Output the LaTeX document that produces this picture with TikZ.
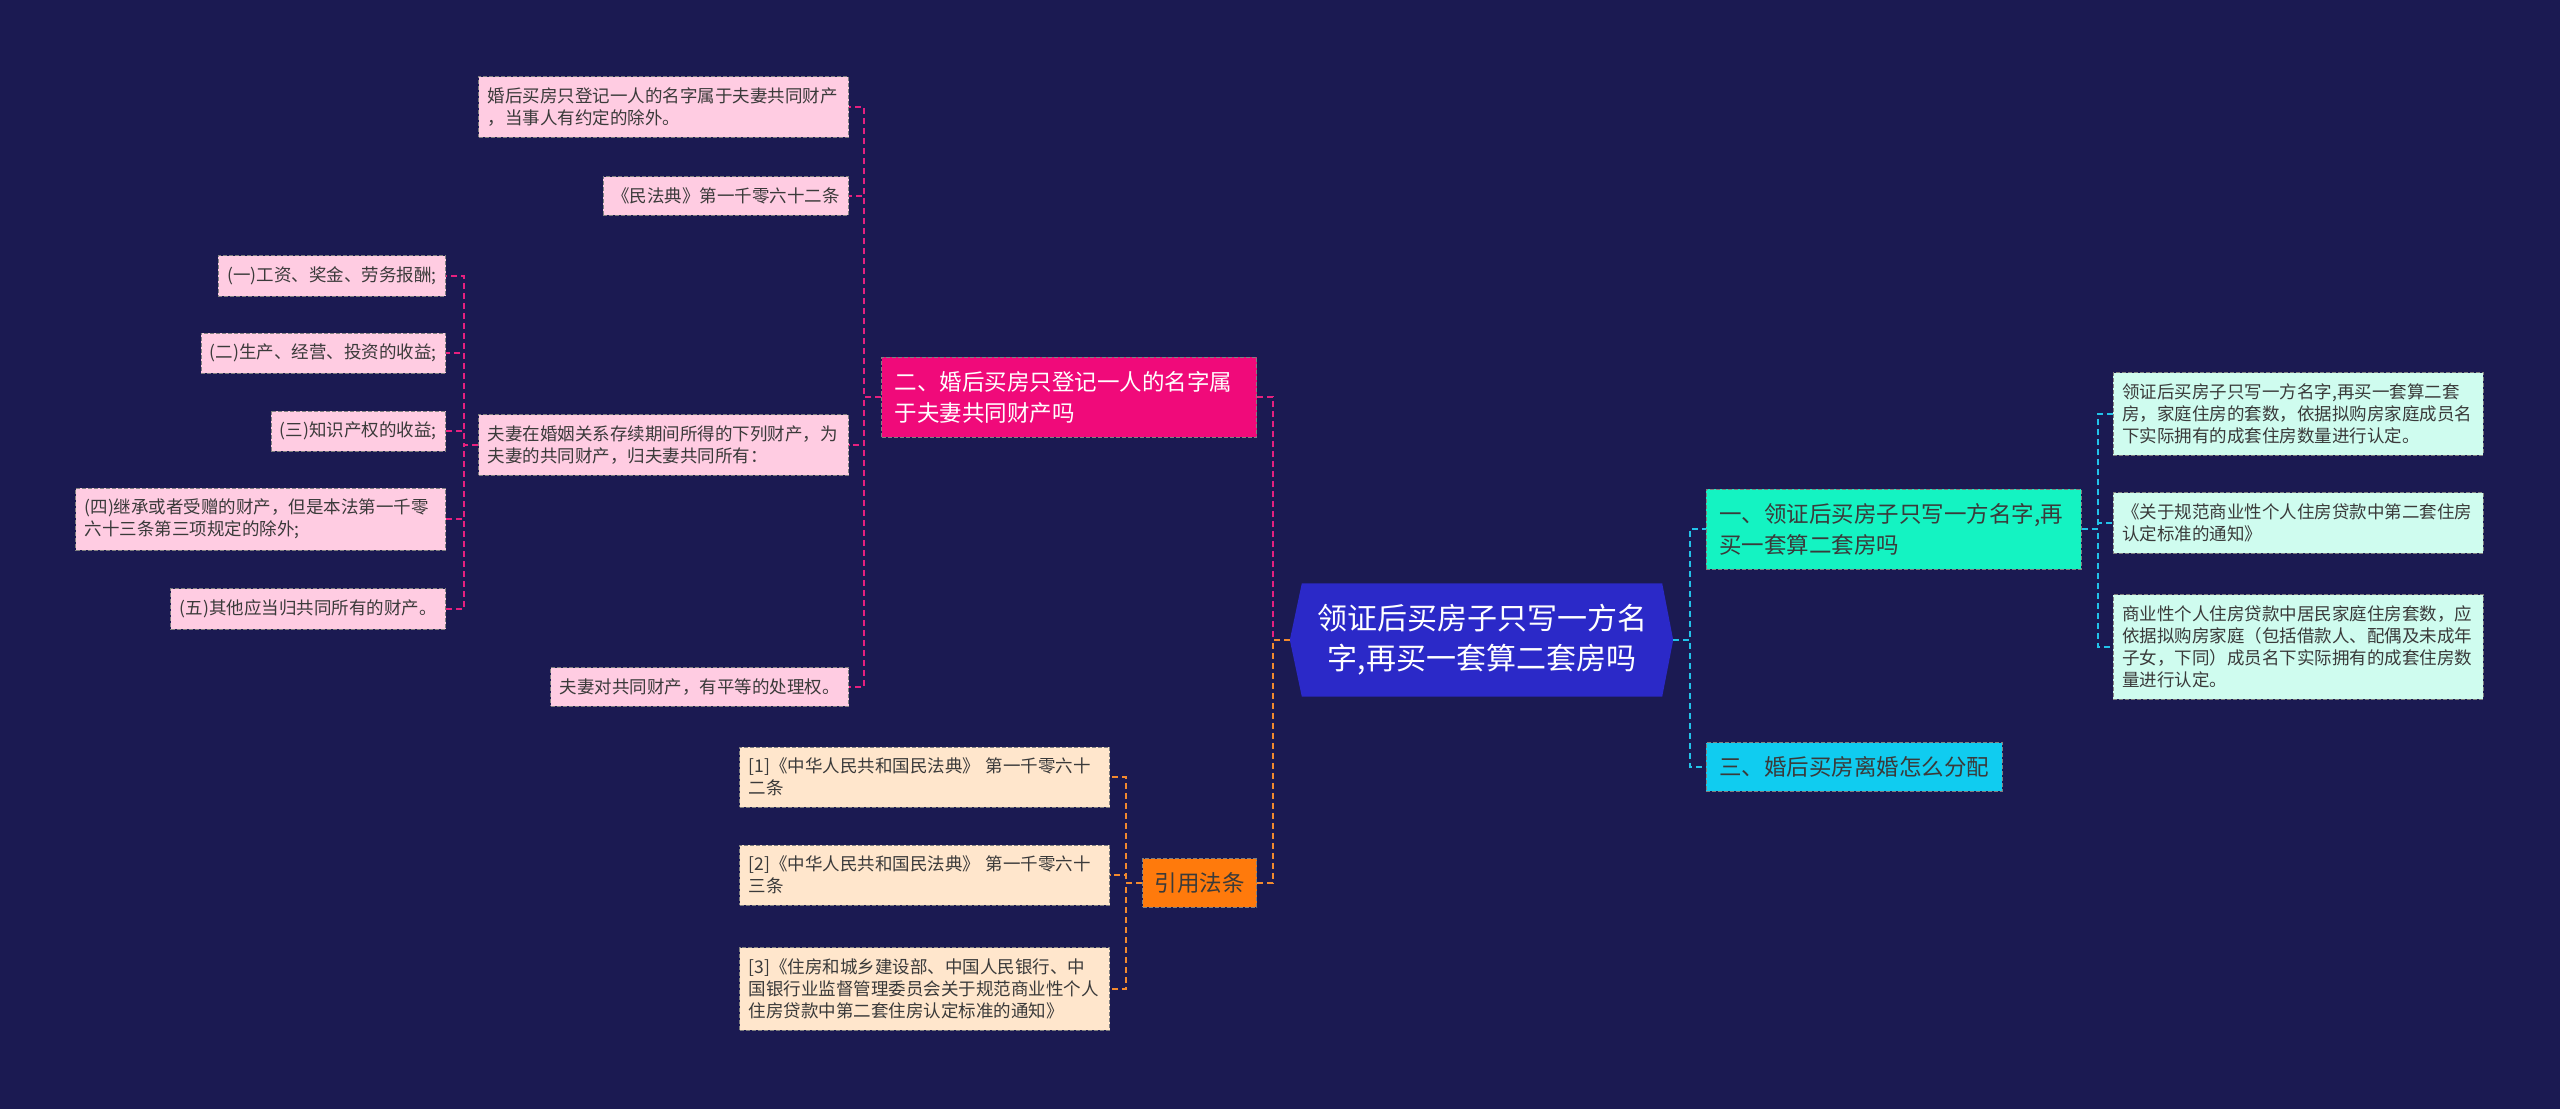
\documentclass[tikz,border=0pt]{standalone}
\usepackage{fontspec}
\setmainfont{Noto Sans CJK SC}
\usepackage{tikz}
\usetikzlibrary{calc,backgrounds}

\definecolor{bgnavy}{HTML}{1B1A52}
\definecolor{rootblue}{HTML}{2B29C8}
\definecolor{magbox}{HTML}{F00A7A}
\definecolor{pinkleaf}{HTML}{FFCCE2}
\definecolor{orbox}{HTML}{FF7A0C}
\definecolor{peachleaf}{HTML}{FFE6CC}
\definecolor{aquabox}{HTML}{14F3C2}
\definecolor{mintleaf}{HTML}{CFFCEF}
\definecolor{cyanbox}{HTML}{10CCF0}
\definecolor{magline}{HTML}{E6207F}
\definecolor{orline}{HTML}{F28A2E}
\definecolor{cyline}{HTML}{22C3E8}
\definecolor{textgray}{HTML}{3A3A3A}

\begin{document}
\begin{tikzpicture}[x=1pt, y=-1pt,
  root/.style={text=white, align=center, minimum width=360pt, minimum height=113pt,
    font=\fontsize{30}{40}\selectfont},
  branch/.style={draw=black!50, line width=0.8pt, dash pattern=on 4pt off 2pt,
    inner xsep=13pt, inner ysep=14pt, align=left, font=\fontsize{22.5}{31}\selectfont},
  twoline/.style={text width=349pt},
  leaf/.style={draw=black!50, line width=0.8pt, dash pattern=on 4pt off 2pt,
    inner xsep=9pt, inner ysep=11pt, align=left, text=textgray,
    font=\fontsize{17.5}{22}\selectfont},
  wide/.style={text width=352pt},
  link/.style={line width=2pt, dash pattern=on 6pt off 4pt}
]
\begin{scope}[on background layer]
\fill[bgnavy] (0,0) rectangle (2560,1109);
\end{scope}
\useasboundingbox (0,0) rectangle (2560,1109);

% centre
\node[root] (root) at (1482,640) {领证后买房子只写一方名\\字,再买一套算二套房吗};
\begin{scope}[on background layer]
\fill[rootblue] (root.north west) -- (root.north east) -- ($(root.east)+(11,0)$)
  -- (root.south east) -- (root.south west) -- ($(root.west)+(-12,0)$) -- cycle;
\end{scope}
\coordinate (rootL) at ($(root.west)+(-12,0)$);
\coordinate (rootR) at ($(root.east)+(11,0)$);

% left branches
\node[branch, twoline, fill=magbox, text=white, anchor=east] (n2) at (1257,397) {二、婚后买房只登记一人的名字属\\于夫妻共同财产吗};
\node[branch, fill=orbox, text=textgray, inner xsep=12pt, anchor=east] (cite) at (1257,883) {引用法条};

\node[leaf, wide, fill=pinkleaf, anchor=east] (a1) at (849,107) {婚后买房只登记一人的名字属于夫妻共同财产\\，当事人有约定的除外。};
\node[leaf, fill=pinkleaf, anchor=east] (a2) at (849,196) {《民法典》第一千零六十二条};
\node[leaf, wide, fill=pinkleaf, anchor=east] (a3) at (849,445) {夫妻在婚姻关系存续期间所得的下列财产，为\\夫妻的共同财产，归夫妻共同所有：};
\node[leaf, fill=pinkleaf, anchor=east] (a4) at (849,687) {夫妻对共同财产，有平等的处理权。};

\node[leaf, fill=pinkleaf, anchor=east] (p1) at (446,276) {(一)工资、奖金、劳务报酬;};
\node[leaf, fill=pinkleaf, anchor=east] (p2) at (446,353) {(二)生产、经营、投资的收益;};
\node[leaf, fill=pinkleaf, anchor=east] (p3) at (446,431) {(三)知识产权的收益;};
\node[leaf, wide, fill=pinkleaf, anchor=east] (p4) at (446,519) {(四)继承或者受赠的财产，但是本法第一千零\\六十三条第三项规定的除外;};
\node[leaf, fill=pinkleaf, anchor=east] (p5) at (446,609) {(五)其他应当归共同所有的财产。};

\node[leaf, wide, fill=peachleaf, anchor=east] (r1) at (1110,777) {[1]《中华人民共和国民法典》 第一千零六十\\二条};
\node[leaf, wide, fill=peachleaf, anchor=east] (r2) at (1110,875) {[2]《中华人民共和国民法典》 第一千零六十\\三条};
\node[leaf, wide, fill=peachleaf, anchor=east] (r3) at (1110,989) {[3]《住房和城乡建设部、中国人民银行、中\\国银行业监督管理委员会关于规范商业性个人\\住房贷款中第二套住房认定标准的通知》};

% right branches
\node[branch, twoline, fill=aquabox, text=textgray, anchor=west] (n1) at (1706,529) {一、领证后买房子只写一方名字,再\\买一套算二套房吗};
\node[branch, fill=cyanbox, text=textgray, anchor=west] (n3) at (1706,767) {三、婚后买房离婚怎么分配};

\node[leaf, wide, fill=mintleaf, anchor=west] (b1) at (2113,414) {领证后买房子只写一方名字,再买一套算二套\\房，家庭住房的套数，依据拟购房家庭成员名\\下实际拥有的成套住房数量进行认定。};
\node[leaf, wide, fill=mintleaf, anchor=west] (b2) at (2113,523) {《关于规范商业性个人住房贷款中第二套住房\\认定标准的通知》};
\node[leaf, wide, fill=mintleaf, anchor=west] (b3) at (2113,647) {商业性个人住房贷款中居民家庭住房套数，应\\依据拟购房家庭（包括借款人、配偶及未成年\\子女，下同）成员名下实际拥有的成套住房数\\量进行认定。};

% connectors
\draw[link, magline] (rootL) -- ++(-17,0) |- (n2.east);
\draw[link, orline] (rootL) -- ++(-17,0) |- (cite.east);
\draw[link, magline] (n2.west) -- ++(-17,0) |- (a1.east);
\draw[link, magline] (n2.west) -- ++(-17,0) |- (a2.east);
\draw[link, magline] (n2.west) -- ++(-17,0) |- (a3.east);
\draw[link, magline] (n2.west) -- ++(-17,0) |- (a4.east);
\draw[link, magline] (a3.west) -- ++(-14,0) |- (p1.east);
\draw[link, magline] (a3.west) -- ++(-14,0) |- (p2.east);
\draw[link, magline] (a3.west) -- ++(-14,0) |- (p3.east);
\draw[link, magline] (a3.west) -- ++(-14,0) |- (p4.east);
\draw[link, magline] (a3.west) -- ++(-14,0) |- (p5.east);
\draw[link, orline] (cite.west) -- ++(-16,0) |- (r1.east);
\draw[link, orline] (cite.west) -- ++(-16,0) |- (r2.east);
\draw[link, orline] (cite.west) -- ++(-16,0) |- (r3.east);
\draw[link, cyline] (rootR) -- ++(17,0) |- (n1.west);
\draw[link, cyline] (rootR) -- ++(17,0) |- (n3.west);
\draw[link, cyline] (n1.east) -- ++(16,0) |- (b1.west);
\draw[link, cyline] (n1.east) -- ++(16,0) |- (b2.west);
\draw[link, cyline] (n1.east) -- ++(16,0) |- (b3.west);
\end{tikzpicture}
\end{document}
